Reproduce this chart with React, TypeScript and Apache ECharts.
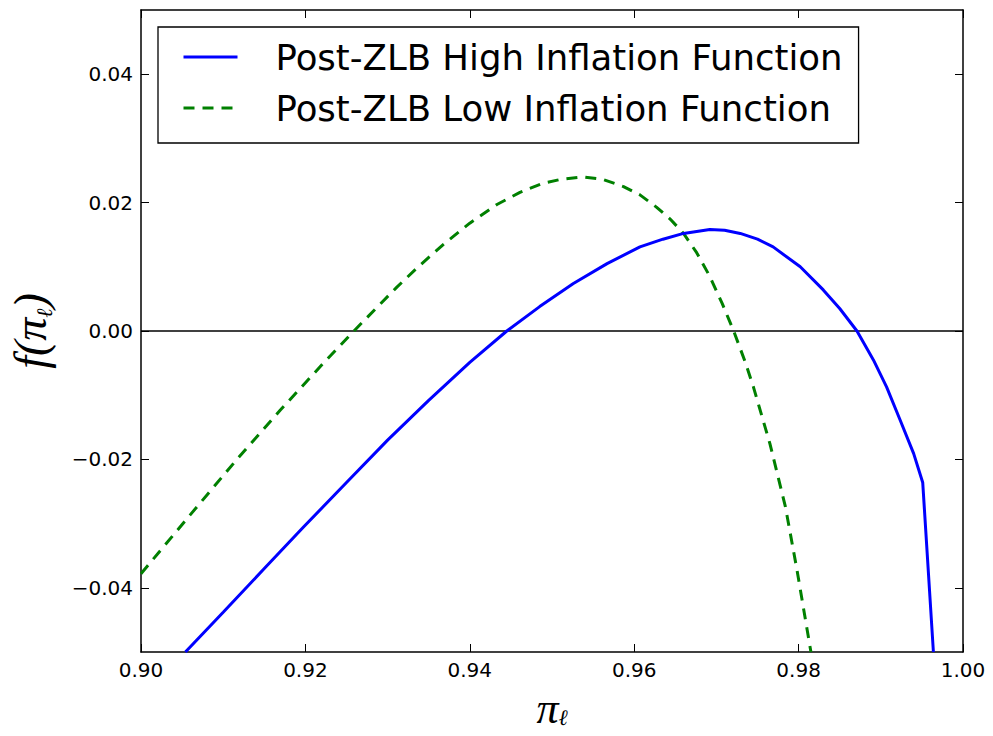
import React, { useEffect, useRef } from "react";
import * as echarts from "echarts";

const highX = [0.9054, 0.9100, 0.9150, 0.9198, 0.9250, 0.9300, 0.9350, 0.9400, 0.9445, 0.9485, 0.9526, 0.9567, 0.9607, 0.9635, 0.9660, 0.9692, 0.9710, 0.9729, 0.9750, 0.9769, 0.9802, 0.9830, 0.9850, 0.9871, 0.9891, 0.9907, 0.9923, 0.9940, 0.9951, 0.9964];
const highY = [-0.0500, -0.0438, -0.0370, -0.0305, -0.0236, -0.0170, -0.0108, -0.0049, 0.0000, 0.0038, 0.0074, 0.0105, 0.0131, 0.0143, 0.0152, 0.0158, 0.0157, 0.0152, 0.0143, 0.0131, 0.0100, 0.0064, 0.0035, 0.0000, -0.0045, -0.0087, -0.0137, -0.0191, -0.0236, -0.0500];

const lowX = [0.9000, 0.9068, 0.9116, 0.9169, 0.9222, 0.9262, 0.9311, 0.9339, 0.9368, 0.9400, 0.9433, 0.9461, 0.9489, 0.9510, 0.9538, 0.9562, 0.9587, 0.9607, 0.9627, 0.9644, 0.9660, 0.9676, 0.9692, 0.9707, 0.9721, 0.9735, 0.9745, 0.9765, 0.9784, 0.9798, 0.9815];
const lowY = [-0.0378, -0.0274, -0.0201, -0.0124, -0.0050, 0.0004, 0.0068, 0.0102, 0.0135, 0.0168, 0.0197, 0.0216, 0.0230, 0.0236, 0.0240, 0.0236, 0.0225, 0.0212, 0.0193, 0.0174, 0.0152, 0.0122, 0.0085, 0.0043, 0.0000, -0.0048, -0.0087, -0.0175, -0.0274, -0.0372, -0.0500];

const xTicks = [0.9, 0.92, 0.94, 0.96, 0.98, 1.0];
const yTicks = [-0.04, -0.02, 0.0, 0.02, 0.04];

const seriesNames = ["Post-ZLB High Inflation Function", "Post-ZLB Low Inflation Function"];

const fmt = (v: number) => {
  const s = Math.abs(v) < 1e-9 ? "0.00" : v.toFixed(2);
  return s.replace("-", "\u2212");
};

export default function App() {
  const ref = useRef<HTMLDivElement>(null);
  useEffect(() => {
    if (!ref.current) return;
    const chart = echarts.init(ref.current, null, { renderer: "svg" });
    const axisLineStyle = { color: "#000", width: 1.5 };
    const tickStyle = { color: "#000", width: 1 };
    const labelStyle = { fontFamily: "DejaVu Sans", fontSize: 20, color: "#000" };
    const yRich = {
      i: { fontFamily: "Liberation Serif", fontStyle: "italic", fontSize: 46, lineHeight: 50, color: "#000" },
      s: { fontFamily: "DejaVu Serif", fontStyle: "italic", fontSize: 22, lineHeight: 30, verticalAlign: "bottom", color: "#000" },
    };
    const xRich = {
      i: { fontFamily: "Liberation Serif", fontStyle: "italic", fontSize: 44, lineHeight: 40, color: "#000" },
      s: { fontFamily: "DejaVu Serif", fontStyle: "italic", fontSize: 22, lineHeight: 22, verticalAlign: "bottom", color: "#000" },
    };
    chart.setOption({
      animation: false,
      backgroundColor: "#fff",
      grid: { left: 141, top: 10, right: 30, bottom: 84, containLabel: false, outerBoundsMode: "none" },
      xAxis: [
        {
          type: "value",
          min: 0.9,
          max: 1.0,
          position: "bottom",
          axisLine: { show: true, onZero: false, lineStyle: axisLineStyle },
          axisTick: { show: true, inside: true, length: 8, customValues: xTicks, lineStyle: tickStyle },
          axisLabel: { show: true, customValues: xTicks, formatter: fmt, margin: 8, ...labelStyle },
          splitLine: { show: false },
          name: "{i|π}{s|ℓ}",
          nameLocation: "middle",
          nameGap: 36,
          nameTextStyle: { rich: xRich },
        },
        {
          type: "value",
          min: 0.9,
          max: 1.0,
          position: "top",
          axisLine: { show: true, onZero: false, lineStyle: axisLineStyle },
          axisTick: { show: true, inside: true, length: 8, customValues: xTicks, lineStyle: tickStyle },
          axisLabel: { show: false },
          splitLine: { show: false },
        },
      ],
      yAxis: [
        {
          type: "value",
          min: -0.05,
          max: 0.05,
          position: "left",
          axisLine: { show: true, onZero: false, lineStyle: axisLineStyle },
          axisTick: { show: true, inside: true, length: 8, customValues: yTicks, lineStyle: tickStyle },
          axisLabel: { show: true, customValues: yTicks, formatter: fmt, margin: 8, ...labelStyle },
          splitLine: { show: false },
          name: "{i|f(π}{s|ℓ}{i|)}",
          nameLocation: "middle",
          nameRotate: 90,
          nameGap: 86,
          nameTextStyle: { rich: yRich },
        },
        {
          type: "value",
          min: -0.05,
          max: 0.05,
          position: "right",
          axisLine: { show: true, onZero: false, lineStyle: axisLineStyle },
          axisTick: { show: true, inside: true, length: 8, customValues: yTicks, lineStyle: tickStyle },
          axisLabel: { show: false },
          splitLine: { show: false },
        },
      ],
      legend: {
        data: seriesNames,
        orient: "vertical",
        left: 158,
        top: 27,
        itemWidth: 54,
        itemHeight: 14,
        itemGap: 15,
        padding: [12, 16, 17, 24],
        borderColor: "#000",
        borderWidth: 1.3,
        borderRadius: 0,
        backgroundColor: "#fff",
        itemStyle: { opacity: 0 },
        lineStyle: { width: 3 },
        textStyle: { fontFamily: "DejaVu Sans", fontSize: 35.5, color: "#000", padding: [0, 0, 0, 33] },
      },
      series: [
        {
          name: "zero",
          type: "line",
          data: [[0.9, 0], [1.0, 0]],
          symbol: "none",
          silent: true,
          lineStyle: { color: "#000", width: 1.3 },
          z: 1,
        },
        {
          name: seriesNames[0],
          type: "line",
          data: highX.map((x, i) => [x, highY[i]]),
          symbol: "none",
          color: "#0000ff",
          lineStyle: { color: "#0000ff", width: 3 },
          z: 3,
        },
        {
          name: seriesNames[1],
          type: "line",
          data: lowX.map((x, i) => [x, lowY[i]]),
          symbol: "none",
          color: "#008000",
          lineStyle: { color: "#008000", width: 3, type: [11, 8] },
          z: 2,
        },
      ],
    });
    return () => chart.dispose();
  }, []);
  return <div ref={ref} style={{ position: "absolute", left: 0, top: 0, width: 993, height: 736 }} />;
}
